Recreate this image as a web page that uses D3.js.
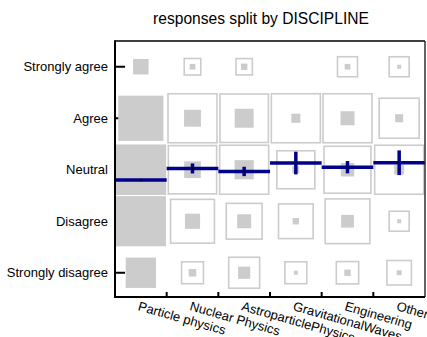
<!DOCTYPE html>
<html><head><meta charset="utf-8">
<script src="https://cdn.jsdelivr.net/npm/d3@7"></script>
<style>body{margin:0;background:#fff;} svg{display:block;font-family:"Liberation Sans",Arial,Helvetica,sans-serif;}</style>
</head><body><svg id="c" width="427" height="337"></svg>
<script>
// Disciplines (columns)
const categories = ["Particle physics","Nuclear Physics","AstroparticlePhysics","GravitationalWaves","Engineering","Other"];
// Response levels, value 1..5 (bottom to top)
const levels = ["Strongly disagree","Disagree","Neutral","Agree","Strongly agree"];
// Counts per discipline, ordered as levels (SD, D, N, A, SA)
const countsParticle      = [103, 294, 300, 237, 24];
const countsNuclear       = [7, 28, 34, 35, 4];
const countsAstroparticle = [18, 24, 45, 44, 5];
const countsGravitational = [2, 5, 6, 10, 0];
const countsEngineering   = [5, 20, 22, 24, 4];
const countsOther         = [3, 2, 12, 8, 2];
const allCounts = [countsParticle, countsNuclear, countsAstroparticle, countsGravitational, countsEngineering, countsOther];
// Mean response and its error (read from the blue crosses)
const means  = [2.80, 3.025, 2.967, 3.13, 3.05, 3.136];
const errors = [0.02, 0.097, 0.091, 0.22, 0.12, 0.24];
const title = "responses split by DISCIPLINE";

const svg = d3.select("#c");
const L = 115, R = 425, T = 41, B = 298.5;
const x = d3.scaleBand().domain(categories).range([L, R]).padding(0);
const y = d3.scaleLinear().domain([0.5, 5.5]).range([B, T]);
const bw = x.bandwidth();
const gmax = d3.max(allCounts, a => d3.max(a));
const fillSize = d3.scaleSqrt().domain([0, gmax]).range([0, 49.5]);
const gray = "#cccccc";
const blue = "#00008b";

// y ticks (inward)
svg.append("g").selectAll("line").data(levels).join("line")
  .attr("x1", L).attr("x2", L + 10)
  .attr("y1", (d, i) => y(i + 1)).attr("y2", (d, i) => y(i + 1))
  .attr("stroke", "#000").attr("stroke-width", 2);
// x ticks at band boundaries
svg.append("g").selectAll("line").data(categories.slice(1)).join("line")
  .attr("x1", d => x(d)).attr("x2", d => x(d))
  .attr("y1", 297).attr("y2", 292)
  .attr("stroke", "#000").attr("stroke-width", 2);

// cells
categories.forEach((cat, ci) => {
  const counts = allCounts[ci];
  const cmax = d3.max(counts);
  const outSize = d3.scaleSqrt().domain([0, cmax]).range([0, 49]);
  const cx = x(cat) + bw / 2;
  const g = svg.append("g");
  counts.forEach((c, li) => {
    if (c <= 0) return;
    const cy = y(li + 1);
    const so = outSize(c);
    g.append("rect").attr("x", cx - so / 2).attr("y", cy - so / 2)
      .attr("width", so).attr("height", so)
      .attr("fill", "none").attr("stroke", gray).attr("stroke-width", 1.6);
    const sf = fillSize(c);
    g.append("rect").attr("x", cx - sf / 2).attr("y", cy - sf / 2)
      .attr("width", sf).attr("height", sf).attr("fill", gray);
  });
});

// means with error bars
const mg = svg.append("g");
categories.forEach((cat, ci) => {
  const cx = x(cat) + bw / 2;
  mg.append("line").attr("x1", x(cat)).attr("x2", x(cat) + bw)
    .attr("y1", y(means[ci])).attr("y2", y(means[ci]))
    .attr("stroke", blue).attr("stroke-width", 3.5);
  mg.append("line").attr("x1", cx).attr("x2", cx)
    .attr("y1", y(means[ci] - errors[ci])).attr("y2", y(means[ci] + errors[ci]))
    .attr("stroke", blue).attr("stroke-width", 3.5);
  mg.append("circle").attr("cx", cx).attr("cy", y(means[ci])).attr("r", 1.1).attr("fill", "#000");
});

// frame
svg.append("line").attr("x1", L).attr("x2", R).attr("y1", T).attr("y2", T).attr("stroke", "#000").attr("stroke-width", 1.6);
svg.append("line").attr("x1", R).attr("x2", R).attr("y1", T).attr("y2", 297).attr("stroke", "#222").attr("stroke-width", 1.4);
svg.append("line").attr("x1", L).attr("x2", L).attr("y1", T - 0.8).attr("y2", 298).attr("stroke", "#000").attr("stroke-width", 2);
svg.append("line").attr("x1", L - 1).attr("x2", R).attr("y1", 297).attr("y2", 297).attr("stroke", "#000").attr("stroke-width", 2);

// y labels
svg.append("g").selectAll("text").data(levels).join("text")
  .attr("x", 108).attr("y", (d, i) => y(i + 1)).attr("dy", "0.35em")
  .attr("text-anchor", "end").attr("font-size", 13).attr("fill", "#000")
  .text(d => d);

// x labels rotated
svg.append("g").selectAll("text").data(categories).join("text")
  .attr("transform", d => `translate(${x(d) + bw / 2 - 3.5},310) rotate(16)`)
  .attr("text-anchor", "start").attr("font-size", 13).attr("fill", "#000")
  .text(d => d);

// title
svg.append("text").attr("x", 261).attr("y", 24).attr("text-anchor", "middle")
  .attr("font-size", 15.6).attr("fill", "#000").text(title);
</script></body></html>
